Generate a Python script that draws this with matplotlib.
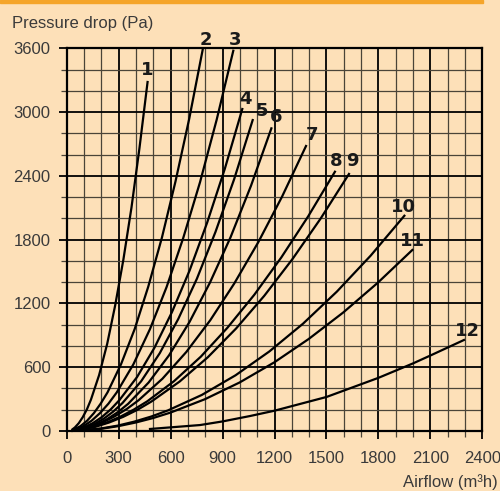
import matplotlib.pyplot as plt
from matplotlib.ticker import MultipleLocator
from matplotlib.patches import Rectangle
from matplotlib.transforms import ScaledTranslation

plt.rcParams['font.family'] = ['Liberation Sans', 'DejaVu Sans']

# airflow (m3/h) and pressure drop (Pa)
flow = [
    [35, 47, 70, 93, 117, 140, 187, 234, 280, 327, 374, 420, 467],
    [35, 79, 118, 157, 196, 236, 314, 393, 471, 550, 628, 707, 785],
    [35, 96, 144, 192, 241, 289, 385, 481, 577, 673, 770, 866, 962],
    [35, 101, 152, 203, 254, 304, 406, 507, 608, 710, 811, 913, 1014],
    [35, 107, 161, 215, 269, 322, 430, 537, 644, 752, 859, 967, 1074],
    [35, 118, 177, 236, 296, 355, 473, 591, 709, 827, 946, 1064, 1182],
    [35, 138, 207, 276, 346, 415, 553, 691, 829, 967, 1106, 1244, 1382],
    [35, 155, 232, 310, 387, 465, 620, 775, 929, 1084, 1239, 1394, 1549],
    [35, 163, 245, 326, 408, 489, 652, 815, 978, 1141, 1304, 1467, 1630],
    [35, 195, 293, 390, 488, 585, 780, 975, 1170, 1365, 1560, 1755, 1950],
    [35, 200, 299, 399, 499, 599, 798, 998, 1198, 1397, 1597, 1796, 1996],
    [481, 770, 900, 1059, 1200, 1500, 1800, 2000, 2100, 2294],
]
drop = [
    [18, 33, 74, 131, 205, 295, 525, 821, 1182, 1609, 2101, 2659, 3283],
    [10, 45, 97, 168, 257, 364, 629, 961, 1358, 1820, 2346, 2933, 3584],
    [7, 45, 97, 168, 257, 363, 627, 959, 1355, 1816, 2341, 2928, 3577],
    [4, 34, 75, 131, 203, 290, 507, 784, 1119, 1511, 1960, 2466, 3029],
    [3, 29, 66, 117, 183, 263, 468, 731, 1053, 1433, 1872, 2369, 2925],
    [2.5, 28, 64, 114, 178, 256, 456, 712, 1025, 1395, 1822, 2306, 2847],
    [3, 38, 80, 137, 206, 289, 492, 744, 1042, 1386, 1775, 2206, 2681],
    [3, 39, 80, 135, 201, 279, 469, 700, 973, 1283, 1632, 2018, 2439],
    [2.5, 38, 80, 133, 199, 277, 465, 694, 964, 1272, 1618, 2000, 2418],
    [1, 23, 50, 88, 136, 194, 339, 524, 748, 1010, 1311, 1649, 2025],
    [1, 21, 46, 80, 122, 173, 299, 456, 645, 865, 1115, 1394, 1703],
    [19, 56, 90, 141, 191, 320, 500, 636, 710, 856],
]
names = ['1', '2', '3', '4', '5', '6', '7', '8', '9', '10', '11', '12']
name_x = [467, 804, 975, 1030, 1125, 1211, 1414, 1555, 1648, 1945, 1999, 2312]
name_y = [3396, 3678, 3678, 3122, 3010, 2954, 2789, 2540, 2540, 2107, 1792, 940]

bg = '#fde0b8'
txt = '#3a3a3a'

fig = plt.figure(figsize=(5.0, 4.91), dpi=100, facecolor=bg)
fig.patches.append(Rectangle((0, 1 - 3 / 491), 483 / 500, 3 / 491,
                             transform=fig.transFigure, color='#f5a52a'))
ax = fig.add_axes([0.1334, 0.1222, 0.8312, 0.7794])
ax.set_facecolor(bg)
ax.set_axisbelow(True)

ax.set_xlim(0, 2400)
ax.set_ylim(0, 3600)
ax.xaxis.set_major_locator(MultipleLocator(300))
ax.xaxis.set_minor_locator(MultipleLocator(100))
ax.yaxis.set_major_locator(MultipleLocator(600))
ax.yaxis.set_minor_locator(MultipleLocator(200))

ax.grid(which='major', color='black', lw=1.3)
ax.grid(which='minor', color='#4a4438', lw=0.9)
ax.tick_params(which='major', length=6, width=1.3, color='black',
               labelsize=12, labelcolor=txt)
ax.tick_params(axis='x', which='major', pad=8.5)
ax.tick_params(axis='y', which='major', pad=5.5)
ax.tick_params(which='minor', length=4, width=0.9, color='#4a4438')
for s in ax.spines.values():
    s.set_linewidth(1.6)
    s.set_color('black')

for q, p in zip(flow, drop):
    ax.plot(q, p, color='black', lw=1.6, clip_on=False)

for n, x, y in zip(names, name_x, name_y):
    ax.text(x, y, n, ha='center', va='center', fontsize=13, fontweight='bold',
            family='DejaVu Sans', color='#1a1a1a')

fig.text(12 / 500, 1 - 28 / 491, 'Pressure drop (Pa)', ha='left', va='baseline',
         fontsize=12, color=txt)
fig.text(498 / 500, 4 / 491, 'Airflow (m³h)', ha='right', va='baseline',
         fontsize=12, color=txt)

# keep the last x label inside the picture
fig.canvas.draw()
last = ax.get_xticklabels()[-1]
last.set_transform(last.get_transform() + ScaledTranslation(-3 / 72, 0, fig.dpi_scale_trans))

plt.savefig('out.png', dpi=100, facecolor=bg)
